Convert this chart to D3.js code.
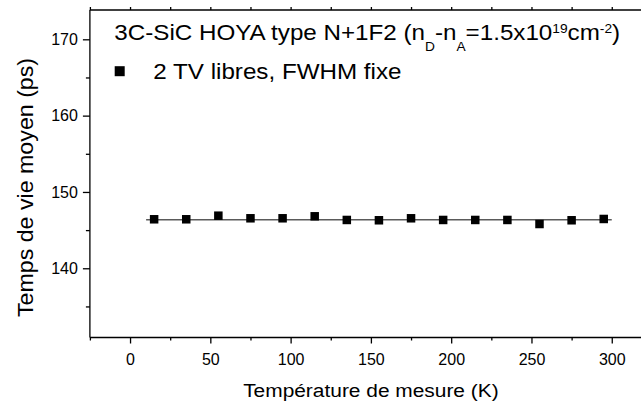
<!DOCTYPE html>
<html>
<head>
<meta charset="utf-8">
<script src="https://cdn.jsdelivr.net/npm/d3@7"></script>
<style>
  html, body { margin: 0; padding: 0; background: #fff; }
  svg { display: block; font-family: "Liberation Sans", Arial, sans-serif; }
  svg text { font-family: "Liberation Sans", Arial, sans-serif; }
</style>
</head>
<body>
<svg id="chart" width="641" height="405"></svg>
<script>
// ---- data ----
const temperature = [15, 35, 55, 75, 95, 115, 135, 155, 175, 195, 215, 235, 255, 275, 295];
const lifetime = [146.42, 146.42, 146.89, 146.55, 146.55, 146.81, 146.33, 146.29, 146.55, 146.33, 146.33, 146.33, 145.80, 146.29, 146.46];
const fitX = [10, 300];
const fitY = [146.35, 146.35];
const xMajorTicks = [0, 50, 100, 150, 200, 250, 300];
const xMinorTicks = [-25, 25, 75, 125, 175, 225, 275];
const yMajorTicks = [140, 150, 160, 170];
const yMinorTicks = [135, 145, 155, 165];
const xTitle = "Température de mesure (K)";
const yTitle = "Temps de vie moyen (ps)";
const legendLabel = "2 TV libres, FWHM fixe";

// ---- layout ----
const FONT = "'Liberation Sans', Arial, sans-serif";
const svg = d3.select("#chart");
const mLeft = 89.9, mRight = 651.9, mTop = 10, mBottom = 337.5;
const x = d3.scaleLinear().domain([-25, 325]).range([mLeft, mRight]);
const y = d3.scaleLinear().domain([130.93, 173.84]).range([mBottom, mTop]);

// fit line
const line = d3.line().x(d => x(d[0])).y(d => y(d[1]));
svg.append("path")
  .datum(fitX.map((v, i) => [v, fitY[i]]))
  .attr("d", line)
  .attr("fill", "none")
  .attr("stroke", "#5a5a5a")
  .attr("stroke-width", 1.5);

// points
const ms = 8.5;
svg.append("g").selectAll("rect")
  .data(temperature.map((t, i) => [t, lifetime[i]]))
  .join("rect")
  .attr("x", d => x(d[0]) - ms / 2)
  .attr("y", d => y(d[1]) - ms / 2)
  .attr("width", ms).attr("height", ms)
  .attr("fill", "#000");

// axes
const gB = svg.append("g").attr("transform", `translate(0,${mBottom})`);
gB.call(d3.axisBottom(x).tickValues(xMajorTicks).tickSize(6).tickPadding(10).tickFormat(d3.format("d")));
gB.append("g").call(d3.axisBottom(x).tickValues(xMinorTicks).tickSize(3).tickFormat(""));
const gT = svg.append("g").attr("transform", `translate(0,${mTop})`);
gT.call(d3.axisTop(x).tickValues(xMajorTicks.concat(xMinorTicks)).tickSize(3).tickFormat(""));
const gL = svg.append("g").attr("transform", `translate(${mLeft},0)`);
gL.call(d3.axisLeft(y).tickValues(yMajorTicks).tickSize(7).tickPadding(5).tickFormat(d3.format("d")));
gL.append("g").call(d3.axisLeft(y).tickValues(yMinorTicks).tickSize(4).tickFormat(""));

svg.selectAll(".domain").remove();
svg.selectAll(".tick line").attr("stroke", "#000").attr("stroke-width", 1.3);
svg.selectAll(".tick text").attr("fill", "#000")
  .style("font-size", "16px").style("font-family", FONT);
svg.selectAll("g").attr("font-family", null).attr("font-size", null);

// frame lines
svg.append("line").attr("x1", mLeft).attr("x2", 641).attr("y1", mTop).attr("y2", mTop).attr("stroke", "#000").attr("stroke-width", 1.3);
svg.append("line").attr("x1", mLeft).attr("x2", 641).attr("y1", mBottom).attr("y2", mBottom).attr("stroke", "#000").attr("stroke-width", 1.3);
svg.append("line").attr("x1", mLeft).attr("x2", mLeft).attr("y1", mTop).attr("y2", mBottom).attr("stroke", "#000").attr("stroke-width", 1.3);

// axis titles
svg.append("text")
  .attr("transform", `translate(${(mLeft + mRight) / 2},396.7) scale(1.1,1)`)
  .attr("text-anchor", "middle")
  .style("font-size", "19px").style("font-family", FONT)
  .attr("fill", "#000")
  .text(xTitle);

svg.append("text")
  .attr("transform", `translate(32.5,187.5) rotate(-90) scale(1.08,1)`)
  .attr("text-anchor", "middle")
  .style("font-size", "21.5px").style("font-family", FONT)
  .attr("fill", "#000")
  .text(yTitle);

// title with sub/superscripts
const title = svg.append("text")
  .attr("transform", "translate(114.3,40) scale(1.1,1)")
  .style("font-size", "22px").style("font-family", FONT)
  .attr("fill", "#000");
const parts = [
  { t: "3C-SiC HOYA type N+1F2 (n", k: "n" },
  { t: "D", k: "sub" },
  { t: "-n", k: "n" },
  { t: "A", k: "sub" },
  { t: "=1.5x10", k: "n" },
  { t: "19", k: "sup" },
  { t: "cm", k: "n" },
  { t: "-2", k: "sup" },
  { t: ")", k: "n" }
];
let cur = 0;
parts.forEach(p => {
  const target = p.k === "sub" ? 11 : (p.k === "sup" ? -7 : 0);
  title.append("tspan")
    .attr("dy", target - cur)
    .style("font-size", p.k === "n" ? "22px" : "12.5px")
    .text(p.t);
  cur = target;
});

// legend
svg.append("rect")
  .attr("x", 119.7 - 5).attr("y", 71.2 - 5)
  .attr("width", 10).attr("height", 10)
  .attr("fill", "#000");
svg.append("text")
  .attr("transform", "translate(153.3,79) scale(1.1,1)")
  .style("font-size", "22px").style("font-family", FONT)
  .attr("fill", "#000")
  .text(legendLabel);
</script>
</body>
</html>
